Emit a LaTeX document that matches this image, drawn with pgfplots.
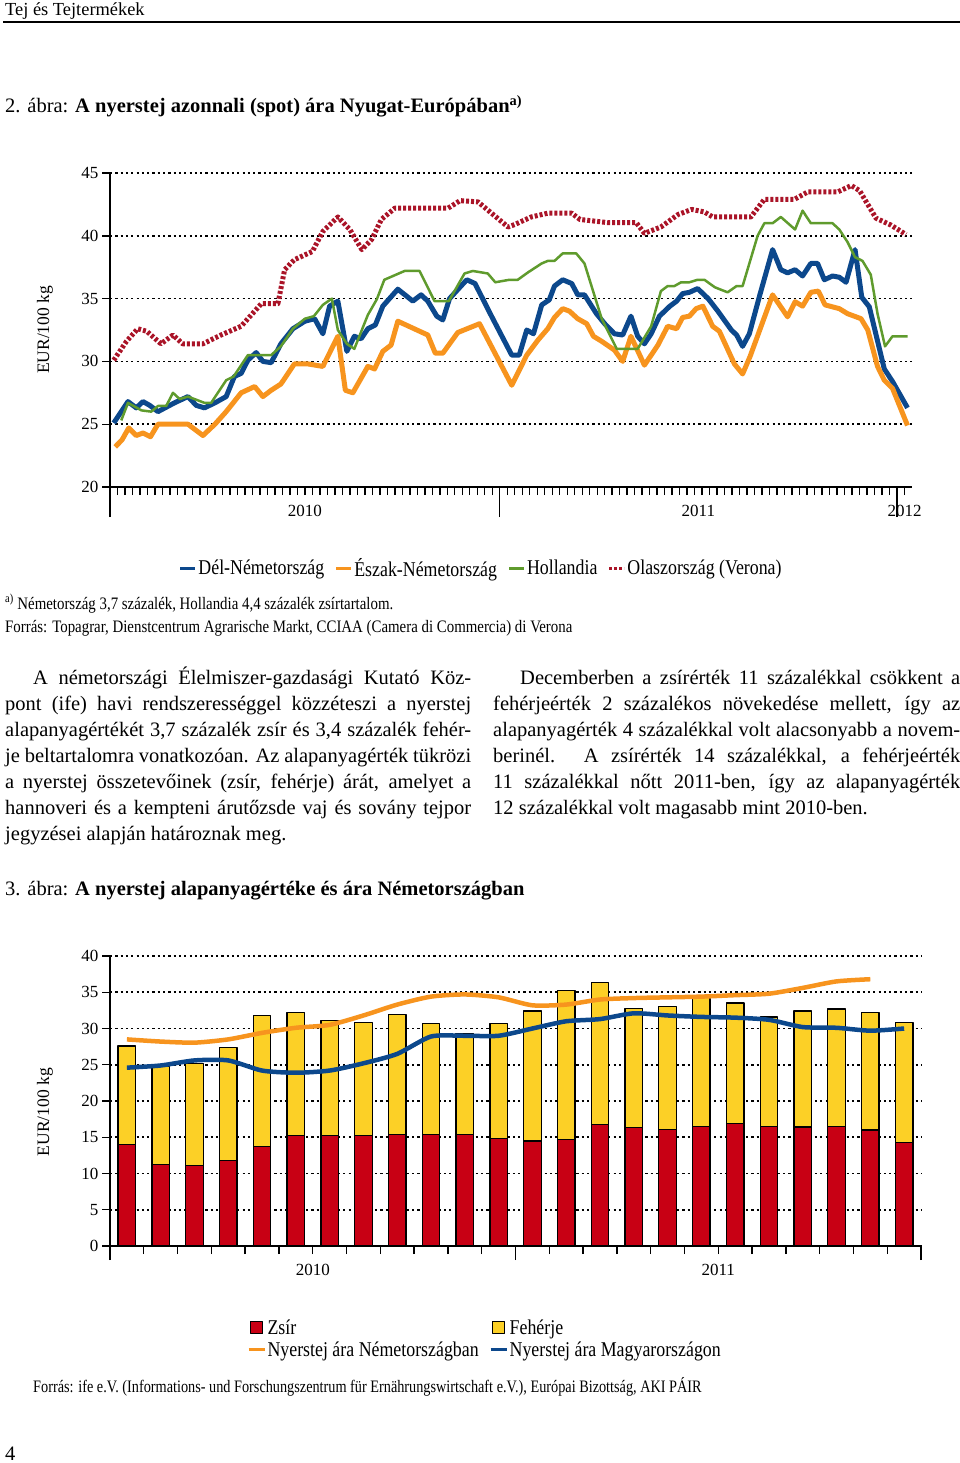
\documentclass[border=0pt]{standalone}
\usepackage{fontspec}
\setmainfont{Liberation Serif}
\usepackage{pgfplots}
\pgfplotsset{compat=1.18}
\usepackage{pgfplotstable}
\usepackage{graphicx}
\definecolor{cblue}{RGB}{12,72,140}
\definecolor{corange}{RGB}{247,148,30}
\definecolor{cgreen}{RGB}{95,155,45}
\definecolor{cred}{RGB}{170,20,40}
\definecolor{zred}{RGB}{200,0,20}
\definecolor{zyellow}{RGB}{252,208,38}
\newcommand\fs[2]{\fontsize{#1}{#2}\selectfont}
\newcommand\cz[1]{\scalebox{0.85}[1]{#1}}
\newcommand\jl[2]{\makebox[#1][s]{#2}}

\pgfplotstableread{
m zsir feherje
0.5 14.0 13.6
1.5 11.25 13.55
2.5 11.1 14.1
3.5 11.75 15.65
4.5 13.7 18.1
5.5 15.2 17.0
6.5 15.2 15.9
7.5 15.2 15.6
8.5 15.4 16.5
9.5 15.4 15.3
10.5 15.4 13.9
11.5 14.8 15.9
12.5 14.5 17.9
13.5 14.7 20.5
14.5 16.8 19.5
15.5 16.3 16.5
16.5 16.1 16.9
17.5 16.5 17.9
18.5 16.9 16.6
19.5 16.5 15.1
20.5 16.4 16.0
21.5 16.5 16.2
22.5 16.0 16.2
23.5 14.3 16.5
}\bartable

\begin{document}
\begin{tikzpicture}[x=1pt,y=1pt]
\useasboundingbox (0,0) rectangle (960,-1463);
% header
\node[anchor=base west, inner sep=0] at (5,-16) {\fs{18.4}{20}Tej és Tejtermékek};
\draw[line width=1.6pt] (3,-22) -- (960,-22);
\node[anchor=base west, inner sep=0] at (5,-113) {\fs{20.5}{24}2. ábra: \textbf{A nyerstej azonnali (spot) ára Nyugat-Európában\textsuperscript{a)}}};

% chart 1
\begin{axis}[
 at={(110pt,-487pt)}, anchor=south west, scale only axis,
 width=802pt, height=314pt,
 xmin=0, xmax=107, ymin=20, ymax=45,
 axis x line*=bottom, axis y line*=left,
 axis line style={line width=1.8pt, -},
 xtick={1,...,106}, xticklabels={},
 extra x ticks={0,52,105}, extra x tick labels={},
 extra x tick style={major tick length=30pt, grid=none},
 ytick={20,25,...,45},
 tick align=outside, major tick length=8pt,
 every tick/.style={black, line width=1.4pt},
 ymajorgrids, grid style={black, line width=1.7pt, dash pattern=on 2.2pt off 3.1pt},
 yticklabel style={font=\fs{17}{17}},
 /pgf/number format/assume math mode=true,
 clip=false,
 legend columns=4, legend cell align=left,
 legend style={draw=none, fill=none, at={(0.4626,-0.258)}, anchor=center, font=\fs{21}{22},
   nodes={inner sep=1.5pt}, /tikz/every even column/.append style={column sep=9pt}},
 legend image code/.code={\draw[#1, line width=3pt] (0pt,0pt) -- (15pt,0pt);},
 line join=round,
]
\addplot[cblue, line width=5pt] coordinates {(0.5,25.1) (2.4,26.8) (3.5,26.3) (4.4,26.8) (5.3,26.5) (6.4,26.0) (7.5,26.35) (8.6,26.7) (10.4,27.2) (11.5,26.5) (12.6,26.3) (14.0,26.7) (15.5,27.2) (16.6,28.8) (17.5,29.05) (18.4,30.1) (19.5,30.7) (20.4,30.0) (21.5,29.9) (22.8,31.4) (24.4,32.6) (26.0,33.2) (27.3,33.4) (28.4,32.2) (29.3,34.4) (30.4,34.8) (31.6,30.8) (32.6,32.0) (33.5,31.8) (34.4,32.6) (35.4,32.9) (36.4,34.4) (38.4,35.75) (40.4,34.8) (41.5,35.3) (42.4,34.8) (43.6,33.6) (44.4,33.3) (45.3,35.0) (47.6,36.5) (48.7,36.2) (50.9,33.6) (53.6,30.5) (54.6,30.5) (55.6,32.5) (56.5,32.2) (57.6,34.5) (58.6,34.9) (59.3,36.0) (60.4,36.5) (61.6,36.2) (62.4,35.3) (63.3,35.3) (64.9,33.8) (66.0,33.0) (67.3,32.2) (68.4,32.1) (69.5,33.6) (70.4,32.0) (71.3,31.4) (72.2,32.2) (73.3,33.6) (74.7,34.4) (75.6,34.8) (76.4,35.4) (77.3,35.5) (78.4,35.8) (79.8,35.0) (81.1,34.0) (82.9,32.5) (83.6,32.1) (84.4,31.2) (85.3,32.2) (86.7,35.3) (88.4,38.9) (89.5,37.3) (90.4,37.05) (91.4,37.3) (92.4,36.8) (93.5,37.8) (94.4,37.8) (95.3,36.5) (96.4,36.8) (97.3,36.7) (98.2,36.3) (99.4,38.9) (100.3,35.1) (101.3,34.35) (103.3,29.4) (104.4,28.4) (106.4,26.3)};
\addlegendentry{\cz{Dél-Németország}}
\addplot[corange, line width=5pt] coordinates {(0.7,23.2) (1.6,23.75) (2.5,24.7) (3.5,24.1) (4.4,24.3) (5.4,24.0) (6.4,25.0) (10.4,25.0) (12.4,24.1) (14.0,25.0) (15.5,26.0) (17.5,27.5) (19.3,28.0) (20.4,27.2) (21.5,27.7) (22.8,28.2) (24.6,29.8) (26.4,29.8) (28.4,29.6) (30.4,32.0) (31.4,27.7) (32.4,27.5) (34.4,29.6) (35.3,29.4) (36.4,30.8) (37.5,31.3) (38.4,33.2) (42.4,32.1) (43.4,30.65) (44.4,30.65) (46.4,32.3) (49.3,33.0) (53.6,28.1) (55.6,30.5) (57.1,31.7) (58.4,32.6) (59.3,33.5) (60.4,34.2) (61.3,34.0) (62.4,33.4) (63.6,33.0) (64.5,32.0) (65.6,31.6) (67.3,30.9) (68.4,30.0) (69.5,32.0) (71.3,29.7) (73.1,31.3) (74.4,32.8) (75.6,32.6) (76.4,33.5) (77.3,33.6) (78.2,34.2) (79.1,34.4) (80.4,32.8) (81.3,32.4) (83.3,29.8) (84.4,29.0) (85.4,30.4) (88.4,35.3) (90.4,33.55) (91.4,34.75) (92.4,34.4) (93.5,35.5) (94.5,35.6) (95.4,34.5) (97.3,34.2) (98.4,33.8) (100.2,33.4) (101.1,32.5) (102.4,29.6) (103.3,28.5) (104.4,27.85) (106.4,24.9)};
\addlegendentry{\cz{Észak-Németország}}
\addplot[cgreen, line width=2.5pt] coordinates {(1.5,25.3) (2.4,26.7) (4.2,26.1) (5.5,26.0) (6.4,26.45) (7.5,26.45) (8.4,27.5) (9.3,27.0) (10.4,27.2) (12.6,26.7) (13.5,26.7) (15.5,28.5) (16.5,28.8) (18.4,30.5) (21.5,30.5) (22.8,31.2) (24.4,32.6) (26.0,33.4) (27.2,33.6) (28.4,34.5) (29.6,35.0) (30.4,32.5) (31.6,31.4) (32.6,31.0) (34.4,33.7) (35.6,34.95) (36.6,36.5) (39.3,37.2) (41.3,37.2) (43.3,34.8) (45.2,34.8) (47.3,37.0) (48.4,37.2) (50.4,37.0) (51.4,36.3) (53.3,36.5) (54.4,36.5) (55.8,37.1) (57.6,37.8) (58.4,38.0) (59.3,38.0) (60.4,38.6) (62.2,38.6) (63.3,37.8) (65.6,33.4) (67.6,31.0) (70.4,31.0) (72.2,32.8) (73.5,35.6) (74.4,36.0) (75.3,36.0) (76.2,36.3) (77.3,36.3) (78.4,36.5) (79.3,36.5) (80.7,35.9) (82.4,35.5) (83.6,36.0) (84.4,36.0) (86.4,40.0) (87.3,41.0) (88.4,41.0) (89.5,41.5) (91.4,40.5) (92.4,42.0) (93.5,41.0) (96.4,41.0) (97.3,40.5) (98.4,39.5) (99.4,38.3) (100.4,38.0) (101.5,36.9) (102.4,33.8) (103.4,31.2) (104.4,32.0) (106.4,32.0)};
\addlegendentry{\cz{Hollandia}}
\addplot[cred, line width=5pt, dash pattern=on 3pt off 2pt] coordinates {(0.5,30.1) (2.2,31.6) (3.7,32.6) (4.9,32.4) (6.8,31.4) (8.4,32.1) (9.7,31.4) (12.4,31.4) (14.8,32.1) (17.5,32.8) (20.2,34.6) (22.4,34.6) (23.3,37.3) (24.6,38.1) (27.0,38.75) (28.4,40.35) (30.4,41.5) (32.0,40.5) (33.6,38.9) (34.9,39.7) (36.2,41.3) (38.0,42.2) (45.1,42.2) (46.7,42.8) (49.1,42.7) (50.9,41.8) (53.1,40.7) (54.0,40.9) (56.2,41.5) (58.4,41.8) (61.6,41.8) (62.7,41.3) (66.4,41.05) (70.2,41.05) (71.3,40.2) (73.5,40.7) (75.8,41.7) (77.6,42.1) (79.3,41.9) (80.4,41.5) (85.5,41.5) (87.3,42.9) (91.3,42.9) (93.1,43.5) (97.1,43.5) (98.9,44.0) (100.0,43.6) (102.2,41.4) (104.2,40.85) (106.2,40.1)};
\addlegendentry{\cz{Olaszország (Verona)}}
\node[font=\fs{17}{17}] at (axis cs:26,20) [yshift=-24pt] {2010};
\node[font=\fs{17}{17}] at (axis cs:78.5,20) [yshift=-24pt] {2011};
\node[font=\fs{17}{17}] at (axis cs:106,20) [yshift=-24pt] {2012};
\end{axis}
\node[rotate=90] at (45,-330) {\fs{17.5}{20}EUR/100 kg};

% notes
\node[anchor=base west, inner sep=0] at (5,-609) {\fs{17.5}{18}\cz{\textsuperscript{a)} Németország 3,7 százalék, Hollandia 4,4 százalék zsírtartalom.}};
\node[anchor=base west, inner sep=0] at (5,-632) {\fs{17.5}{18}\cz{Forrás: Topagrar, Dienstcentrum Agrarische Markt, CCIAA (Camera di Commercia) di Verona}};

% body text
\begin{scope}[every node/.style={anchor=base west, inner sep=0, font=\fs{20.5}{26}}]
\node at (5,-684) {\jl{466pt}{\hspace*{28pt}A németországi Élelmiszer-gazdasági Kutató Köz-}};
\node at (5,-710) {\jl{466pt}{pont (ife) havi rendszerességgel közzéteszi a nyerstej}};
\node at (5,-736) {\jl{466pt}{alapanyagértékét 3,7 százalék zsír és 3,4 százalék fehér-}};
\node at (5,-762) {\jl{466pt}{je beltartalomra vonatkozóan. Az alapanyagérték tükrözi}};
\node at (5,-788) {\jl{466pt}{a nyerstej összetevőinek (zsír, fehérje) árát, amelyet a}};
\node at (5,-814) {\jl{466pt}{hannoveri és a kempteni árutőzsde vaj és sovány tejpor}};
\node at (5,-840) {jegyzései alapján határoznak meg.};
\node at (493,-684) {\jl{467pt}{\hspace*{27pt}Decemberben a zsírérték 11 százalékkal csökkent a}};
\node at (493,-710) {\jl{467pt}{fehérjeérték 2 százalékos növekedése mellett, így az}};
\node at (493,-736) {\jl{467pt}{alapanyagérték 4 százalékkal volt alacsonyabb a novem-}};
\node at (493,-762) {\jl{467pt}{berinél. A zsírérték 14 százalékkal, a fehérjeérték}};
\node at (493,-788) {\jl{467pt}{11 százalékkal nőtt 2011-ben, így az alapanyagérték}};
\node at (493,-814) {12 százalékkal volt magasabb mint 2010-ben.};
\node at (5,-895) {3. ábra: \textbf{A nyerstej alapanyagértéke és ára Németországban}};
\end{scope}

% chart 2
\begin{axis}[
 at={(110pt,-1246pt)}, anchor=south west, scale only axis,
 width=811pt, height=290pt,
 xmin=0, xmax=24, ymin=0, ymax=40,
 axis x line*=bottom, axis y line*=left,
 axis line style={line width=1.8pt, -},
 xtick={1,...,23}, xticklabels={},
 extra x ticks={0,12,24}, extra x tick labels={},
 extra x tick style={major tick length=14pt, grid=none},
 ytick={0,5,...,40},
 tick align=outside, major tick length=8pt,
 every tick/.style={black, line width=1.4pt},
 ymajorgrids, grid style={black, line width=1.7pt, dash pattern=on 2.2pt off 3.1pt},
 yticklabel style={font=\fs{17}{17}},
 /pgf/number format/assume math mode=true,
 clip=false,
 legend columns=2, legend cell align=left,
 legend style={draw=none, fill=none, at={(0.462,-0.32)}, anchor=center, font=\fs{21}{22},
   nodes={inner sep=1.5pt}, /tikz/every even column/.append style={column sep=9pt}, row sep=3pt},
 legend image code/.code={\draw[#1, line width=3pt] (0pt,0pt) -- (16pt,0pt);},
 line join=round,
]
\addplot[ybar, bar width=17.5pt, bar shift=0pt, fill=zyellow, draw=black, line width=1.3pt, forget plot] table[x=m, y expr=\thisrow{zsir}+\thisrow{feherje}] {\bartable};
\addplot[ybar, bar width=17.5pt, bar shift=0pt, fill=zred, draw=black, line width=1.3pt, forget plot] table[x=m, y=zsir] {\bartable};
\addplot[corange, line width=4.5pt, smooth, tension=0.4, forget plot] coordinates {(0.5,28.5) (1.5,28.2) (2.5,28.05) (3.5,28.5) (4.5,29.4) (5.5,30.1) (6.5,30.5) (7.5,31.8) (8.5,33.3) (9.5,34.4) (10.5,34.7) (11.5,34.3) (12.5,33.2) (13.5,33.3) (14.5,34.0) (15.5,34.2) (16.5,34.3) (17.5,34.4) (18.5,34.6) (19.5,34.8) (20.5,35.6) (21.5,36.5) (22.5,36.8)};
\addplot[cblue, line width=4.5pt, smooth, tension=0.4, forget plot] coordinates {(0.5,24.6) (1.5,24.9) (2.5,25.6) (3.5,25.6) (4.5,24.2) (5.5,23.9) (6.5,24.2) (7.5,25.2) (8.5,26.5) (9.5,28.9) (10.5,29.0) (11.5,29.0) (12.5,30.0) (13.5,31.0) (14.5,31.3) (15.5,32.1) (16.5,31.8) (17.5,31.6) (18.5,31.5) (19.5,31.2) (20.5,30.2) (21.5,30.1) (22.5,29.7) (23.5,30.0)};
\addlegendimage{legend image code/.code={\draw[fill=zred, draw=black, line width=1.2pt] (2pt,-6pt) rectangle (14pt,6pt);}}
\addlegendentry{\cz{Zsír}}
\addlegendimage{legend image code/.code={\draw[fill=zyellow, draw=black, line width=1.2pt] (2pt,-6pt) rectangle (14pt,6pt);}}
\addlegendentry{\cz{Fehérje}}
\addlegendimage{corange, line width=3pt}
\addlegendentry{\cz{Nyerstej ára Németországban}}
\addlegendimage{cblue, line width=3pt}
\addlegendentry{\cz{Nyerstej ára Magyarországon}}
\node[font=\fs{17}{17}] at (axis cs:6,0) [yshift=-24pt] {2010};
\node[font=\fs{17}{17}] at (axis cs:18,0) [yshift=-24pt] {2011};
\end{axis}
\node[rotate=90] at (45,-1112) {\fs{17.5}{20}EUR/100 kg};

\node[anchor=base west, inner sep=0] at (33,-1392) {\fs{17.5}{18}\scalebox{0.815}[1]{Forrás: ife e.V. (Informations- und Forschungszentrum für Ernährungswirtschaft e.V.), Európai Bizottság, AKI PÁIR}};
\node[anchor=base west, inner sep=0] at (5,-1460) {\fs{20.5}{22}4};
\end{tikzpicture}
\end{document}
